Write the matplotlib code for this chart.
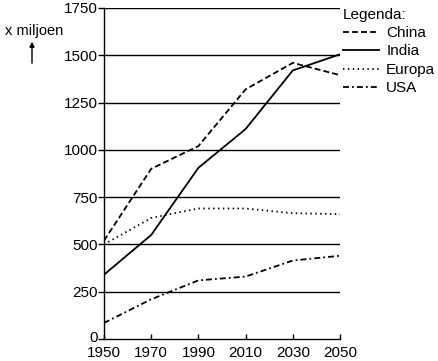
import matplotlib
matplotlib.use("Agg")
import matplotlib.pyplot as plt
from matplotlib.transforms import ScaledTranslation

years = [1950, 1970, 1990, 2010, 2030, 2050]
china = [520, 900, 1020, 1320, 1460, 1395]
india = [340, 550, 905, 1110, 1420, 1505]
europa = [500, 640, 690, 690, 665, 660]
usa = [85, 210, 310, 330, 415, 440]
yticks = [0, 250, 500, 750, 1000, 1250, 1500, 1750]

plt.rcParams['font.family'] = ['Liberation Sans', 'DejaVu Sans']
fig = plt.figure(figsize=(4.38, 3.61), dpi=100)
ax = fig.add_axes([104/438, 1-339/361, (340-104)/438, (339-8)/361])

for y in yticks[1:]:
    ax.axhline(y, color='black', lw=1.0, zorder=1)

lw = 1.3
ax.plot(years, china, color='black', lw=lw, dashes=(3.3, 1.7), label='China')
ax.plot(years, india, color='black', lw=lw, label='India')
ax.plot(years, europa, color='black', lw=lw, dashes=(0.8, 1.9), label='Europa')
ax.plot(years, usa, color='black', lw=lw, dashes=(3.3, 1.7, 1.0, 1.7), label='USA')

ax.set_xlim(1950, 2050)
ax.set_ylim(0, 1750)
ax.set_xticks(years)
ax.set_yticks(yticks)
for s in ['top', 'right']:
    ax.spines[s].set_visible(False)
ax.spines['left'].set_linewidth(1.0)
ax.spines['bottom'].set_linewidth(1.0)
ax.tick_params(axis='y', direction='out', length=4, width=1, labelsize=11, pad=0.5)
ax.tick_params(axis='x', direction='in', length=3.5, width=1, labelsize=11, pad=5.2)

# nudge the "0" label up slightly so it does not touch "1950"
zero_lbl = ax.get_yticklabels()[0]
zero_lbl.set_transform(zero_lbl.get_transform() + ScaledTranslation(0, 2/72, fig.dpi_scale_trans))

fig.text(5/438, 1-31/361, 'x miljoen', fontsize=10.5, va='center', ha='left')
fig.patches.append(matplotlib.patches.FancyArrowPatch((32/438, 1-66/361), (32/438, 1-39/361),
    transform=fig.transFigure, arrowstyle='-|>', mutation_scale=7, color='black', lw=1))

leg = fig.legend(loc='upper left', bbox_to_anchor=(335/438, 1-0/361), frameon=False,
                 title='Legenda:', fontsize=11, title_fontsize=11, alignment='left',
                 handlelength=2.4, handletextpad=0.45, labelspacing=0.29, borderpad=0.2,
                 borderaxespad=0.3)

fig.savefig('out.png', dpi=100)
